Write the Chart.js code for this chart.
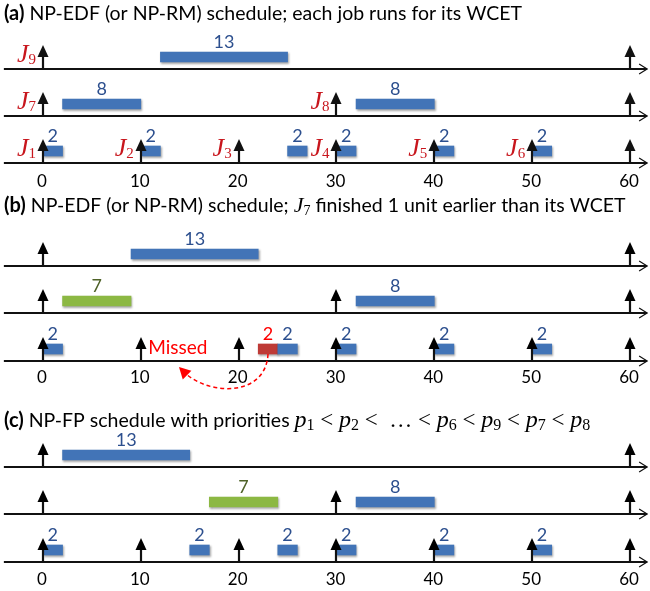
<!DOCTYPE html>
<html>
<head>
<meta charset="utf-8">
<script src="https://cdn.jsdelivr.net/npm/chart.js@4.4.1/dist/chart.umd.min.js"></script>
<style>
  html, body { margin: 0; padding: 0; background: #ffffff; }
  canvas { display: block; }
</style>
</head>
<body>
<canvas id="sched" width="650" height="591"></canvas>
<script>
// ---- time axis ----
const timeTicks = [0, 10, 20, 30, 40, 50, 60];

// ---- release times per row (long job J9, mid jobs J7/J8, short jobs J1..J6) ----
const releaseLong  = [0, 60];
const releaseMid   = [0, 30, 60];
const releaseShort = [0, 10, 20, 30, 40, 50, 60];

// job name subscripts, in the same order as the releases they sit beside
const namesLong  = ['9'];
const namesMid   = ['7', '8'];
const namesShort = ['1', '2', '3', '4', '5', '6'];

// ---- (a) NP-EDF, every job runs for its WCET ----
const runA_long  = [[12, 25]];
const runA_mid   = [[2, 10], [32, 40]];
const runA_short = [[0, 2], [10, 12], [25, 27], [30, 32], [40, 42], [50, 52]];

// ---- (b) NP-EDF, J7 finishes one unit early ----
const runB_long   = [[9, 22]];
const runB_j7     = [[2, 9]];
const runB_mid    = [[32, 40]];
const runB_short  = [[0, 2], [24, 26], [30, 32], [40, 42], [50, 52]];
const runB_missed = [[22, 24]];

// ---- (c) NP-FP ----
const runC_long  = [[2, 15]];
const runC_j7    = [[17, 24]];
const runC_mid   = [[32, 40]];
const runC_short = [[0, 2], [15, 17], [24, 26], [30, 32], [40, 42], [50, 52]];

// priority order shown in the (c) heading, lowest first
const priorityOrder = ['1', '2', '…', '6', '9', '7', '8'];

// ---- page layout: baseline of each timeline row (y scale is in canvas pixels) ----
const rowLines = [
  [69, 116, 163],
  [266, 313, 361],
  [467, 514, 562]
];
const tickRowY  = [182, 378, 580];
const BAR_LIFT  = 12;   // bar centre above its timeline

const BLUE  = '#4274b7', BLUE_TXT  = '#2c4f8e';
const GREEN = '#8cb843', GREEN_TXT = '#4f6228';
const RED   = '#be3a36', RED_TXT   = '#ff0000';
const NAME_RED = '#c8161d';

function bars(runs, panel, row) {
  return runs.map(([s, e]) => ({ x: [s, e], y: rowLines[panel][row] - BAR_LIFT }));
}

const blueBars = [].concat(
  bars(runA_long, 0, 0), bars(runA_mid, 0, 1), bars(runA_short, 0, 2),
  bars(runB_long, 1, 0), bars(runB_mid, 1, 1), bars(runB_short, 1, 2),
  bars(runC_long, 2, 0), bars(runC_mid, 2, 1), bars(runC_short, 2, 2)
);
const greenBars = [].concat(bars(runB_j7, 1, 1), bars(runC_j7, 2, 1));
const redBars   = bars(runB_missed, 1, 2);

// soft drop shadow under the execution bars
const barShadow = {
  id: 'barShadow',
  beforeDatasetsDraw(chart) {
    const c = chart.ctx;
    c.save();
    c.shadowColor = 'rgba(0,0,0,0.35)';
    c.shadowBlur = 2;
    c.shadowOffsetX = 1;
    c.shadowOffsetY = 1.5;
  },
  afterDatasetsDraw(chart) { chart.ctx.restore(); }
};

// draws a sequence of text runs left to right: [text, font, colour, dy]
function drawRuns(ctx, x, y, runs) {
  ctx.textAlign = 'left';
  ctx.textBaseline = 'alphabetic';
  for (const [t, f, col, dy] of runs) {
    ctx.font = f;
    ctx.fillStyle = col;
    ctx.fillText(t, x, y + (dy || 0));
    x += ctx.measureText(t).width;
  }
}

const SANS = '"Lato", "Open Sans", sans-serif';
const MATH = '"Liberation Serif", "DejaVu Serif", serif';

const timelines = {
  id: 'timelines',
  afterDatasetsDraw(chart) {
    const { ctx, scales: { x, y } } = chart;
    const px = t => x.getPixelForValue(t);
    const py = v => y.getPixelForValue(v);
    const releases = [releaseLong, releaseMid, releaseShort];

    ctx.save();
    // timelines with open arrow ends
    ctx.strokeStyle = '#111';
    ctx.fillStyle = '#111';
    for (let p = 0; p < 3; p++) {
      for (let r = 0; r < 3; r++) {
        const ly = py(rowLines[p][r]);
        const x0 = px(-4), x1 = px(61.75);
        ctx.lineWidth = 1.8;
        ctx.beginPath();
        ctx.moveTo(x0, ly); ctx.lineTo(x1, ly);
        ctx.stroke();
        ctx.lineWidth = 1.2;
        ctx.beginPath();
        ctx.moveTo(x1 - 8, ly - 5); ctx.lineTo(x1, ly); ctx.lineTo(x1 - 8, ly + 5);
        ctx.stroke();
        // release arrows
        for (const t of releases[r]) {
          const ax = Math.round(px(t));
          ctx.lineWidth = 2.2;
          ctx.beginPath();
          ctx.moveTo(ax, ly); ctx.lineTo(ax, ly - 14);
          ctx.stroke();
          ctx.beginPath();
          ctx.moveTo(ax, ly - 24);
          ctx.lineTo(ax - 5.5, ly - 12);
          ctx.lineTo(ax + 5.5, ly - 12);
          ctx.closePath();
          ctx.fill();
        }
      }
      // time tick labels
      ctx.font = '17px ' + SANS;
      ctx.fillStyle = '#000';
      ctx.textAlign = 'center';
      ctx.textBaseline = 'middle';
      for (const t of timeTicks) ctx.fillText(String(t), px(t) - 1, py(tickRowY[p]));
    }

    // job names beside their releases, panel (a)
    const names = [namesLong, namesMid, namesShort];
    for (let r = 0; r < 3; r++) {
      const ly = py(rowLines[0][r]);
      names[r].forEach((sub, i) => {
        const right = px(releases[r][i]) - 7;
        ctx.font = '15px ' + MATH;
        const sw = ctx.measureText(sub).width;
        ctx.font = 'italic 26px ' + MATH;
        const jw = ctx.measureText('J').width;
        drawRuns(ctx, right - sw - jw, ly - 7, [
          ['J', 'italic 26px ' + MATH, NAME_RED, 0],
          [sub, '15px ' + MATH, NAME_RED, 2]
        ]);
      });
    }

    // execution lengths above the bars
    const txtCols = [BLUE_TXT, GREEN_TXT, RED_TXT];
    chart.data.datasets.forEach((ds, di) => {
      const meta = chart.getDatasetMeta(di);
      ctx.font = '18px ' + SANS;
      ctx.fillStyle = txtCols[di];
      ctx.textAlign = 'center';
      ctx.textBaseline = 'middle';
      meta.data.forEach((el, i) => {
        const [s, e] = ds.data[i].x;
        ctx.fillText(String(e - s), (el.x + el.base) / 2, el.y - 15);
      });
    });

    // panel titles
    const B = 'bold 20px ' + SANS, R = '19.5px ' + SANS;
    const MI = 'italic 24px ' + MATH, MS = '16px ' + MATH, MR = '23px ' + MATH;
    drawRuns(ctx, 4, py(20), [['(a)', B, '#000'], [' NP-EDF (or NP-RM) schedule; each job runs for its WCET', R, '#000']]);
    drawRuns(ctx, 4, py(212), [
      ['(b)', B, '#000'], [' NP-EDF (or NP-RM) schedule; ', R, '#000'],
      ['J', 'italic 22px ' + MATH, '#000'], ['7', '14px ' + MATH, '#000', 3],
      [' finished 1 unit earlier than its WCET', R, '#000']
    ]);
    const cRuns = [['(c)', B, '#000'], [' NP-FP schedule with priorities ', R, '#000']];
    priorityOrder.forEach((k, i) => {
      if (k === '…') { cRuns.push([' <  … ', MR, '#000']); return; }
      if (i > 0) cRuns.push([priorityOrder[i - 1] === '…' ? '< ' : ' < ', MR, '#000']);
      cRuns.push(['p', MI, '#000'], [k, MS, '#000', 3]);
    });
    drawRuns(ctx, 4, py(427), cRuns);

    // deadline miss annotation in (b)
    const missLine = py(rowLines[1][2]);
    ctx.font = '19px ' + SANS;
    ctx.fillStyle = RED_TXT;
    ctx.textAlign = 'left';
    ctx.textBaseline = 'middle';
    ctx.fillText('Missed', px(10.75), missLine - 13);

    const redEl = chart.getDatasetMeta(2).data[0];
    const sx = (redEl.x + redEl.base) / 2, sy = missLine - 7;
    const tipX = px(13.9), tipY = missLine + 6;
    ctx.strokeStyle = RED_TXT;
    ctx.lineWidth = 1.5;
    ctx.setLineDash([4, 3]);
    ctx.beginPath();
    ctx.moveTo(sx, sy);
    ctx.bezierCurveTo(sx - 2, missLine + 34, tipX + 35, missLine + 36, tipX + 7, missLine + 13);
    ctx.stroke();
    ctx.setLineDash([]);
    ctx.fillStyle = RED_TXT;
    ctx.beginPath();
    ctx.moveTo(tipX, tipY);
    ctx.lineTo(tipX + 3.8, tipY + 12.4);
    ctx.lineTo(tipX + 12.4, tipY + 3.8);
    ctx.closePath();
    ctx.fill();
    ctx.restore();
  }
};

new Chart(document.getElementById('sched'), {
  type: 'bar',
  data: {
    datasets: [
      { data: blueBars,  backgroundColor: BLUE },
      { data: greenBars, backgroundColor: GREEN },
      { data: redBars,   backgroundColor: RED }
    ]
  },
  options: {
    indexAxis: 'y',
    responsive: false,
    animation: false,
    events: [],
    layout: { padding: 0 },
    datasets: { bar: { grouped: false, barThickness: 10, borderWidth: 0, borderSkipped: false } },
    plugins: { legend: { display: false }, tooltip: { enabled: false } },
    scales: {
      x: { type: 'linear', min: -4.395, max: 62.045, offset: false, display: false },
      y: { type: 'linear', min: 0, max: 591, reverse: true, offset: false, display: false }
    }
  },
  plugins: [barShadow, timelines]
});
</script>
</body>
</html>
